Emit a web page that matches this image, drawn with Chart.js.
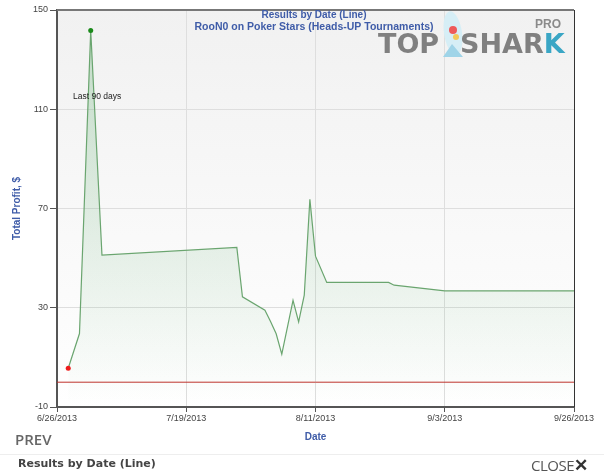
<!DOCTYPE html>
<html>
<head>
<meta charset="utf-8">
<script src="https://cdn.jsdelivr.net/npm/chart.js@4.4.1/dist/chart.umd.min.js"></script>
<style>
  body { margin: 0; background: #fff; font-family: "Liberation Sans", Arial, sans-serif; }
  #wrap { position: relative; width: 604px; height: 471px; overflow: hidden; }
  #prev { position: absolute; left: 15px; top: 429px; font: 600 15px "Open Sans", sans-serif; color: #666; }
  #sep { position: absolute; left: 0; top: 454px; width: 604px; height: 1px; background: #eee; }
  #foot { position: absolute; left: 18px; top: 457px; font: bold 11px "DejaVu Sans", sans-serif; color: #444; }
  #close { position: absolute; left: 531px; top: 453px; font: 15px "Open Sans", sans-serif; color: #555; letter-spacing: -0.5px; }
  #close b { color: #333; font-size: 17px; }
</style>
</head>
<body>
<div id="wrap">
  <canvas id="linechart" width="604" height="471"></canvas>
  <div id="prev">PREV</div>
  <div id="sep"></div>
  <div id="foot">Results by Date (Line)</div>
  <div id="close">CLOSE<b>✕</b></div>
</div>
<script>
// data
const dates = ['6/28/2013', '6/30/2013', '7/2/2013', '7/4/2013', '7/28/2013', '7/29/2013', '8/2/2013',
  '8/3/2013', '8/4/2013', '8/5/2013', '8/7/2013', '8/8/2013', '8/9/2013', '8/10/2013', '8/11/2013',
  '8/13/2013', '8/24/2013', '8/25/2013', '9/3/2013', '9/26/2013'];
const profit = [5.6, 19.6, 141.7, 51.2, 54.3, 34.4, 29, 24.5, 19.5, 11.3, 33, 24.3, 35.1, 73.7, 50.8,
  40.2, 40.2, 39.1, 36.8, 36.8];
const startDate = '6/26/2013';
const endDate = '9/26/2013';
const yTicks = [-10, 30, 70, 110, 150];

const DAY = 86400000;
function parseDate(s) {
  const [m, d, y] = s.split('/').map(Number);
  return Date.UTC(y, m - 1, d);
}
const t0 = parseDate(startDate);
const dayOf = s => Math.round((parseDate(s) - t0) / DAY);
const fmt = n => {
  const d = new Date(t0 + n * DAY);
  return (d.getUTCMonth() + 1) + '/' + d.getUTCDate() + '/' + d.getUTCFullYear();
};

const points = dates.map((d, i) => ({ x: dayOf(d), y: profit[i] }));
const peakIdx = profit.indexOf(Math.max(...profit));
const lastDay = dayOf(endDate);

const blue = '#3f5ca8';
const font = 'Liberation Sans, Arial, sans-serif';

const plotBg = {
  id: 'plotBg',
  beforeDraw(chart) {
    const { ctx, chartArea: a } = chart;
    const g = ctx.createLinearGradient(0, a.top, 0, a.bottom);
    g.addColorStop(0, '#f1f1f1');
    g.addColorStop(1, '#ffffff');
    ctx.save();
    ctx.fillStyle = g;
    ctx.fillRect(a.left, a.top, a.right - a.left, a.bottom - a.top);
    ctx.restore();
  },
  afterDraw(chart) {
    const { ctx, chartArea: a } = chart;
    ctx.save();
    // top and right frame
    ctx.strokeStyle = '#777';
    ctx.lineWidth = 2;
    ctx.beginPath(); ctx.moveTo(a.left, a.top); ctx.lineTo(a.right, a.top); ctx.stroke();
    ctx.strokeStyle = '#333';
    ctx.lineWidth = 1;
    ctx.beginPath(); ctx.moveTo(a.right + 0.5, a.top); ctx.lineTo(a.right + 0.5, a.bottom); ctx.stroke();

    // titles
    ctx.fillStyle = blue;
    ctx.textAlign = 'center';
    ctx.textBaseline = 'middle';
    ctx.font = 'bold 10px ' + font;
    ctx.fillText('Results by Date (Line)', 314, 15);
    ctx.font = 'bold 10.5px ' + font;
    ctx.fillText('RooN0 on Poker Stars (Heads-UP Tournaments)', 314, 27);

    ctx.fillStyle = '#222';
    ctx.textAlign = 'left';
    ctx.font = '8.5px ' + font;
    ctx.fillText('Last 90 days', 73, 97);

    // logo
    ctx.fillStyle = '#d6eef6';
    ctx.beginPath();
    ctx.ellipse(453, 33, 9, 22, -0.15, 0, Math.PI * 2);
    ctx.fill();
    ctx.fillStyle = '#9fd4e8';
    ctx.beginPath();
    ctx.moveTo(443, 57); ctx.lineTo(452, 44); ctx.lineTo(463, 57); ctx.closePath();
    ctx.fill();
    ctx.fillStyle = '#ee5a5a';
    ctx.beginPath(); ctx.arc(453, 30, 4, 0, Math.PI * 2); ctx.fill();
    ctx.fillStyle = '#f3c95a';
    ctx.beginPath(); ctx.arc(456, 37, 3, 0, Math.PI * 2); ctx.fill();

    ctx.textBaseline = 'alphabetic';
    ctx.font = 'bold 27px DejaVu Sans, sans-serif';
    ctx.fillStyle = '#808080';
    ctx.fillText('TOP', 378, 53);
    ctx.fillText('SHAR', 460, 53);
    const w = ctx.measureText('SHAR').width;
    ctx.fillStyle = '#3aa6c5';
    ctx.fillText('K', 460 + w, 53);
    ctx.fillStyle = '#8a8a8a';
    ctx.font = 'bold 12px ' + font;
    ctx.fillText('PRO', 535, 28);
    ctx.restore();
  }
};

const ctx = document.getElementById('linechart');

new Chart(ctx, {
  type: 'line',
  data: {
    datasets: [{
      label: 'Total Profit',
      data: points,
      borderColor: '#6aa56f',
      borderWidth: 1.2,
      tension: 0,
      fill: 'start',
      backgroundColor: c => {
        const a = c.chart.chartArea;
        if (!a) return 'rgba(110,180,120,0.15)';
        const g = c.chart.ctx.createLinearGradient(0, a.top, 0, a.bottom);
        g.addColorStop(0, 'rgba(100,175,115,0.35)');
        g.addColorStop(1, 'rgba(100,175,115,0.0)');
        return g;
      },
      pointRadius: c => (c.dataIndex === 0 || c.dataIndex === peakIdx) ? 2.5 : 0,
      pointBackgroundColor: c => c.dataIndex === 0 ? '#ee1c1c' : '#1a8a1a',
      pointBorderWidth: 0
    },
    {
      label: 'zero',
      data: [{ x: 0, y: 0 }, { x: lastDay, y: 0 }],
      borderColor: '#c0302a',
      borderWidth: 1,
      pointRadius: 0,
      fill: false
    }]
  },
  options: {
    responsive: false,
    animation: false,
    layout: { padding: { left: 11, top: 10, right: 30, bottom: 28 } },
    plugins: { legend: { display: false }, tooltip: { enabled: false } },
    scales: {
      x: {
        type: 'linear',
        min: 0,
        max: lastDay,
        afterFit: s => { s.height = 36; },
        afterBuildTicks: s => { s.ticks = [0, 23, 46, 69, 92].map(v => ({ value: v })); },
        ticks: { callback: v => fmt(v), color: '#444', font: { family: font, size: 9 }, padding: 1, maxRotation: 0 },
        grid: { color: '#dedede', tickColor: '#555', tickLength: 5 },
        border: { color: '#555', width: 2 },
        title: { display: true, text: 'Date', color: blue, font: { family: font, size: 10, weight: 'bold' }, padding: 0 }
      },
      y: {
        min: -10,
        max: 150,
        afterFit: s => { s.width = 46; },
        afterBuildTicks: s => { s.ticks = yTicks.map(v => ({ value: v })); },
        ticks: { color: '#444', font: { family: font, size: 9 }, padding: 2 },
        grid: { color: '#dedede', tickColor: '#555', tickLength: 7 },
        border: { color: '#555', width: 2 },
        title: { display: true, text: 'Total Profit, $', color: blue, font: { family: font, size: 10, weight: 'bold' }, padding: 0 }
      }
    }
  },
  plugins: [plotBg]
});
</script>
</body>
</html>
